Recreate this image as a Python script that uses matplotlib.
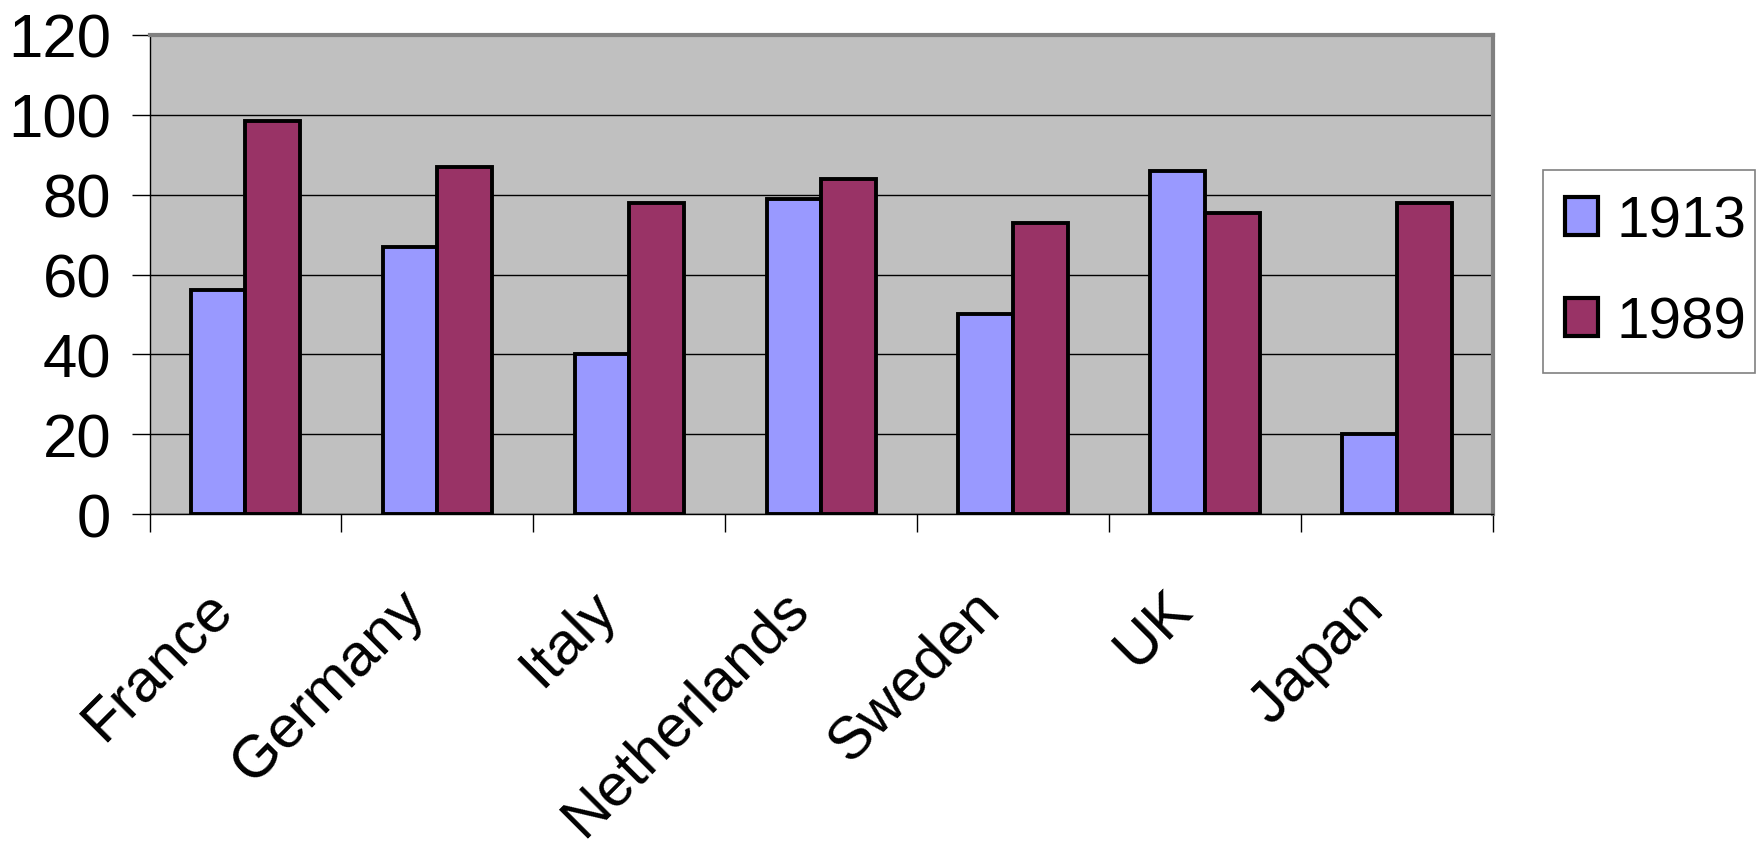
import numpy as np
import matplotlib.pyplot as plt
import matplotlib.transforms as mtransforms
from matplotlib.patches import Rectangle
from matplotlib.ticker import FixedLocator

plt.rcParams['font.family'] = ['Liberation Sans', 'DejaVu Sans']

# Datos por país
paises = ["France", "Germany", "Italy", "Netherlands", "Sweden", "UK", "Japan"]
v1913 = [56, 67, 40, 79, 50, 86, 20]
v1989 = [98.5, 87, 78, 84, 73, 75.5, 78]

W, H = 1763, 853
fig = plt.figure(figsize=(W / 100, H / 100), dpi=100)
ax = fig.add_axes([149.5/W, 1 - 515/H, 1343.5/W, 479/H])
ax.set_facecolor('#C0C0C0')

x = np.arange(len(paises))
w = 0.285
ax.bar(x - w/2, v1913, w, color='#9999FF', edgecolor='black', linewidth=2.8,
       label='1913', zorder=3)
ax.bar(x + w/2, v1989, w, color='#993366', edgecolor='black', linewidth=2.8,
       label='1989', zorder=3)

ax.set_xlim(-0.5, len(paises) - 0.5)
ax.set_ylim(0, 120)
ax.set_yticks(range(0, 121, 20))
ax.yaxis.grid(True, color='black', linewidth=1)
ax.set_axisbelow(True)

# Marcas del eje x entre categorías; nombres girados 45° bajo cada grupo
ax.set_xticks(x)
ax.set_xticklabels([])
ax.tick_params(axis='x', which='major', length=0)
ax.xaxis.set_minor_locator(FixedLocator(np.arange(-0.5, len(paises), 1)))
ax.tick_params(axis='x', which='minor', length=13, width=1, color='black')
ax.tick_params(axis='y', length=13, width=1, pad=14.5, labelsize=44.5)

desp = mtransforms.ScaledTranslation(-22/100, -85/100, fig.dpi_scale_trans)
for i, nombre in enumerate(paises):
    ax.text(i, 0, nombre, transform=ax.get_xaxis_transform() + desp,
            rotation=45, rotation_mode='anchor', ha='right', va='center',
            fontsize=43)

for s in ['top', 'right']:
    ax.spines[s].set_color('#808080')
    ax.spines[s].set_linewidth(3)
for s in ['left', 'bottom']:
    ax.spines[s].set_color('black')
    ax.spines[s].set_linewidth(1)

# Leyenda con marco propio
fig.add_artist(Rectangle((1543/W, 1 - 374/H), 212/W, 203/H,
                         transform=fig.transFigure, facecolor='white',
                         edgecolor='#808080', linewidth=1.2))
leg = fig.legend(loc='center left', bbox_to_anchor=(1565/W, 1 - 273/H),
                 fontsize=42, frameon=False, handlelength=0.57,
                 handleheight=0.62, handletextpad=0.32, labelspacing=0.8,
                 borderpad=0, borderaxespad=0)
for h in leg.legend_handles:
    h.set_linewidth(3)

fig.savefig('out.png', dpi=100)
